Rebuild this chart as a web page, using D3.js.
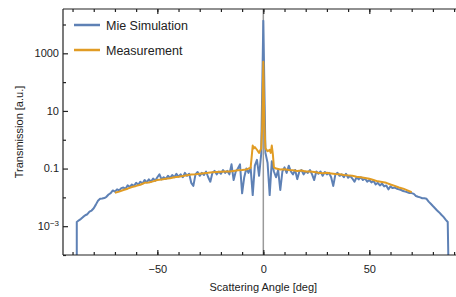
<!DOCTYPE html>
<html><head><meta charset="utf-8">
<script src="https://cdn.jsdelivr.net/npm/d3@7"></script>
<style>html,body{margin:0;padding:0;background:#fff;}svg{display:block;font-family:"Liberation Sans",Arial,sans-serif;}</style>
</head><body>
<svg id="chart" width="456" height="297"></svg>
<script>
// ---- data ----
const seriesNames = ["Mie Simulation", "Measurement"];
const xTickLabels = [-50, 0, 50];
const yTickLabels = [1e3, 10, 0.1, 1e-3];

// Mie simulation: angles (deg) and transmission (a.u.)
const blueAngles = [-88].concat(d3.range(-88, 88), [87.5, 87.5]);
const blueValues = [0.00001,
 0.0014,0.0016,0.0018,0.0021,0.0024,0.0026,0.0032,0.0035,0.0042,0.0056,
 0.0076,0.0089,0.0091,0.0095,0.0105,0.0126,0.0141,0.0174,0.0158,0.019,
 0.0174,0.021,0.022,0.020,0.026,0.023,0.028,0.025,0.032,0.0275,
 0.035,0.030,0.040,0.033,0.042,0.035,0.045,0.038,0.050,0.063,
 0.042,0.050,0.044,0.056,0.047,0.060,0.050,0.066,0.052,0.063,
 0.050,0.071,0.056,0.066,0.032,0.025,0.063,0.076,0.056,0.071,
 0.060,0.079,0.050,0.035,0.071,0.083,0.063,0.079,0.066,0.089,
 0.071,0.083,0.063,0.14,0.040,0.079,0.10,0.14,0.0138,0.050,
 0.10,0.071,0.11,0.012,0.126,0.20,0.056,0.32,
 13500,
 0.35,0.16,0.012,0.18,0.079,0.050,0.089,0.018,0.079,0.11,
 0.071,0.126,0.079,0.063,0.089,0.043,0.079,0.089,0.063,0.079,
 0.071,0.089,0.063,0.040,0.079,0.066,0.079,0.056,0.076,0.063,
 0.071,0.050,0.025,0.063,0.071,0.056,0.063,0.050,0.066,0.048,
 0.056,0.045,0.035,0.050,0.042,0.050,0.040,0.045,0.035,0.040,
 0.033,0.038,0.028,0.032,0.026,0.030,0.024,0.026,0.019,0.024,
 0.021,0.022,0.020,0.019,0.018,0.0166,0.0158,0.0151,0.0141,0.0141,
 0.0132,0.0112,0.0105,0.010,0.0093,0.0093,0.0089,0.0071,0.0060,0.0050,
 0.0042,0.0035,0.0030,0.0025,0.0021,0.0017,
 0.0014,0.00001];

// Measurement
const orangeAngles = [-70,-68,-66,-64,-62,-60,-58,-56,-54,-52,-50,-48,-46,-44,-42,-40,-38,-36,-34,-32,-30,-28,-26,-24,-22,-20,-18,-16,-14,-12,-10,-8,-7,-6,-5.5,-5,-4.5,-4,-3,-2,-1,-0.5,0,0.5,1,2,3,3.5,4,4.5,5,6,8,10,12,14,16,18,20,22,24,26,28,30,32,34,36,38,40,42,44,46,48,50,52,54,56,58,60,62,64,66,68,70];
const orangeValues = [0.0145,0.0158,0.018,0.020,0.023,0.025,0.0275,0.032,0.033,0.036,0.040,0.042,0.044,0.046,0.050,0.052,0.055,0.059,0.062,0.063,0.066,0.069,0.071,0.074,0.076,0.078,0.079,0.079,0.083,0.087,0.089,0.093,0.10,0.105,0.25,0.63,0.50,0.56,0.45,0.35,0.50,3.2,510,3.2,0.50,0.40,0.45,0.35,0.63,0.32,0.11,0.10,0.093,0.095,0.089,0.087,0.083,0.085,0.079,0.079,0.076,0.072,0.069,0.071,0.068,0.065,0.063,0.060,0.058,0.056,0.052,0.050,0.047,0.044,0.040,0.036,0.034,0.032,0.028,0.025,0.022,0.020,0.0174,0.0151];

// ---- chart ----
const svg = d3.select("#chart");
const L = 63, R = 456, T = 9, B = 255;
const x = d3.scaleLinear().domain([-94.5, 90.9]).range([L, R]);
const y = d3.scaleLog().domain([1e-4, 34500]).range([B, T]);
const colors = ["#5E81B5", "#E19C24"];
const textColor = "#222";

svg.append("defs").append("clipPath").attr("id", "clip")
  .append("rect").attr("x", L).attr("y", T).attr("width", R - L).attr("height", B - T);

// zero line
svg.append("line").attr("x1", x(0)).attr("x2", x(0)).attr("y1", y(1e-4)).attr("y2", y(34500))
  .attr("stroke", "#9a9a9a").attr("stroke-width", 1.5);

const line = d3.line().x(d => x(d[0])).y(d => y(d[1]));
const g = svg.append("g").attr("clip-path", "url(#clip)");
g.append("path").datum(blueAngles.map((a, i) => [a, blueValues[i]]))
  .attr("d", line).attr("fill", "none").attr("stroke", colors[0]).attr("stroke-width", 2).attr("stroke-linejoin", "round");
g.append("path").datum(orangeAngles.map((a, i) => [a, orangeValues[i]]))
  .attr("d", line).attr("fill", "none").attr("stroke", colors[1]).attr("stroke-width", 2).attr("stroke-linejoin", "round");

// frame
const frame = svg.append("g").attr("stroke", "#222").attr("stroke-width", 1.2);
frame.append("line").attr("x1", L).attr("x2", R).attr("y1", B).attr("y2", B);
frame.append("line").attr("x1", L).attr("x2", R).attr("y1", T).attr("y2", T);
frame.append("line").attr("x1", L).attr("x2", L).attr("y1", T).attr("y2", B);

// x axes (inward ticks)
const xMinor = d3.range(-90, 91, 10);
const xb = d3.axisBottom(x).tickValues(xMinor).tickSizeInner(-3).tickSizeOuter(0).tickFormat("");
const xbMaj = d3.axisBottom(x).tickValues(xTickLabels).tickSizeInner(-5).tickSizeOuter(0)
  .tickPadding(10).tickFormat(d => d < 0 ? "\u2212" + Math.abs(d) : d);
const xt = d3.axisTop(x).tickValues(xMinor).tickSizeInner(-3).tickSizeOuter(0).tickFormat("");
const xtMaj = d3.axisTop(x).tickValues(xTickLabels).tickSizeInner(-5).tickSizeOuter(0).tickFormat("");
function styleAxis(sel) {
  sel.select(".domain").remove();
  sel.selectAll(".tick line").attr("stroke", "#222").attr("stroke-width", 1.2);
  sel.selectAll("text").attr("fill", textColor).style("font-size", "11px").style("font-family", "'Liberation Sans', Arial, sans-serif");
}
svg.append("g").attr("transform", `translate(0,${B})`).call(xb).call(styleAxis);
svg.append("g").attr("transform", `translate(0,${B})`).call(xbMaj).call(styleAxis);
svg.append("g").attr("transform", `translate(0,${T})`).call(xt).call(styleAxis);
svg.append("g").attr("transform", `translate(0,${T})`).call(xtMaj).call(styleAxis);

// y axis
const yMinor = [1e4, 100, 1, 0.01, 1e-4];
const ya = d3.axisLeft(y).tickValues(yMinor).tickSizeInner(-3).tickSizeOuter(0).tickFormat("");
const yaMaj = d3.axisLeft(y).tickValues(yTickLabels).tickSizeInner(-5).tickSizeOuter(0).tickPadding(4).tickFormat("");
svg.append("g").attr("transform", `translate(${L},0)`).call(ya).call(styleAxis);
svg.append("g").attr("transform", `translate(${L},0)`).call(yaMaj).call(styleAxis);
// y tick labels
yTickLabels.forEach(v => {
  const t = svg.append("text").attr("x", L - 4).attr("y", y(v)).attr("dy", "0.35em")
    .attr("text-anchor", "end").attr("fill", textColor).style("font-size", "11px");
  if (v >= 0.01) {
    t.text(v >= 1 ? d3.format("d")(v) : String(v));
  } else {
    const e = Math.round(Math.log10(v));
    t.append("tspan").text("10");
    t.append("tspan").attr("dy", "-0.45em").style("font-size", "8px").text("\u2212" + Math.abs(e));
  }
});

// axis titles
svg.append("text").attr("x", x(0)).attr("y", 291).attr("text-anchor", "middle")
  .attr("fill", textColor).style("font-size", "11px").text("Scattering Angle [deg]");
svg.append("text").attr("transform", `translate(23,${(T + B) / 2}) rotate(-90)`).attr("text-anchor", "middle")
  .attr("fill", textColor).style("font-size", "11px").text("Transmission [a.u.]");

// legend
seriesNames.forEach((n, i) => {
  const ly = 25 + i * 25;
  svg.append("line").attr("x1", 74).attr("x2", 100).attr("y1", ly).attr("y2", ly)
    .attr("stroke", colors[i]).attr("stroke-width", 2.5);
  svg.append("text").attr("x", 106).attr("y", ly).attr("dy", "0.36em").attr("fill", textColor)
    .style("font-size", "12.5px").text(n);
});
</script>
</body></html>
